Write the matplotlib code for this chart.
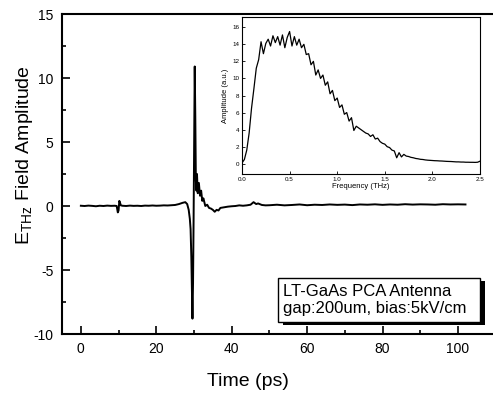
import matplotlib
matplotlib.use("Agg")
import matplotlib.pyplot as plt
from matplotlib.patches import Rectangle
from matplotlib.ticker import MultipleLocator

plt.rcParams['font.family'] = ['Liberation Sans', 'DejaVu Sans']
plt.rcParams['mathtext.fontset'] = 'custom'
plt.rcParams['mathtext.rm'] = 'Liberation Sans'
plt.rcParams['axes.unicode_minus'] = False

# ---- main time-domain trace ----
time_ps = [0, 1, 2, 3, 4, 5, 6, 7, 8, 9, 9.5, 9.8, 10.0, 10.2, 10.4, 10.6, 11,
           12, 13, 14, 15, 16, 17, 18, 19, 20, 21, 22, 23, 24, 25, 26, 27, 27.7,
           28.2, 28.6, 28.9, 29.1, 29.3, 29.45, 29.6, 29.75, 29.9, 30.05, 30.2,
           30.35, 30.5, 30.65, 30.8, 31.0, 31.3, 31.6, 31.9, 32.2, 32.5, 33,
           33.5, 34, 34.5, 35, 35.5, 36, 36.5, 37, 38, 39, 40, 41, 42, 43, 44,
           45, 45.8, 46.5, 47, 48, 49, 50, 52, 54, 56, 58, 60, 62, 64, 66, 68,
           70, 72, 74, 76, 78, 80, 82, 84, 86, 88, 90, 92, 94, 96, 98, 100, 102]
e_field = [0.02, 0.0, 0.03, 0.01, -0.02, 0.02, 0.0, 0.03, 0.01, 0.02, 0.0, -0.5,
           -0.35, 0.4, 0.25, 0.05, 0.02,
           0.0, 0.03, 0.01, 0.02, 0.0, 0.03, 0.02, 0.04, 0.02, 0.03, 0.05, 0.04,
           0.06, 0.08, 0.15, 0.25, 0.3,
           0.15, -0.3, -1.0, -1.8, -4.0, -6.5, -8.8, -6.0, -1.0, 5.0, 10.9,
           7.0, 2.0, 1.2, 2.5, 1.0, 1.8, 0.8, 1.2, 0.4, 0.6, 0.0,
           0.1, -0.15, -0.2, -0.3, -0.45, -0.3, -0.35, -0.15, -0.1, -0.05, -0.02,
           0.0, 0.05, 0.02, 0.05, 0.1, 0.3, 0.15, 0.2, 0.08, 0.05, 0.06, 0.1,
           0.05, 0.08, 0.12, 0.06, 0.1, 0.08, 0.12, 0.09, 0.11, 0.07, 0.12,
           0.1, 0.13, 0.09, 0.12, 0.1, 0.14, 0.11, 0.13, 0.12, 0.1, 0.14, 0.12,
           0.13, 0.12]

# ---- inset spectrum ----
freq_thz = [0.000, 0.025, 0.050, 0.075, 0.100, 0.125, 0.150, 0.175, 0.200, 0.225,
            0.250, 0.275, 0.300, 0.325, 0.350, 0.375, 0.400, 0.425, 0.450, 0.475,
            0.500, 0.525, 0.550, 0.575, 0.600, 0.625, 0.650, 0.675, 0.700, 0.725,
            0.750, 0.775, 0.800, 0.825, 0.850, 0.875, 0.900, 0.925, 0.950, 0.975,
            1.000, 1.025, 1.050, 1.075, 1.100, 1.125, 1.150, 1.175, 1.200, 1.225,
            1.250, 1.275, 1.300, 1.325, 1.350, 1.375, 1.400, 1.425, 1.450, 1.475,
            1.500, 1.525, 1.550, 1.575, 1.600, 1.625, 1.650, 1.675, 1.700, 1.725,
            1.750, 1.775, 1.800, 1.825, 1.850, 1.875, 1.900, 1.925, 1.950, 1.975,
            2.000, 2.025, 2.050, 2.075, 2.100, 2.125, 2.150, 2.175, 2.200, 2.225,
            2.250, 2.275, 2.300, 2.325, 2.350, 2.375, 2.400, 2.425, 2.450, 2.475,
            2.500]
amplitude = [0.1, 0.5, 1.6, 3.6, 6.5, 8.8, 11.2, 12.2, 14.3, 12.9,
             14.1, 14.6, 13.8, 15.0, 14.2, 14.9, 13.9, 15.1, 13.6, 14.8,
             15.5, 13.8, 14.9, 13.9, 14.6, 13.6, 14.0, 12.8, 12.9, 11.6,
             12.0, 10.4, 11.0, 10.0, 10.4, 9.2, 9.6, 8.2, 8.6, 7.4,
             7.7, 6.6, 6.9, 5.8, 6.0, 5.0, 5.4, 3.9, 4.4, 4.2,
             4.0, 3.8, 3.6, 3.5, 3.2, 3.4, 2.9, 3.0, 2.6, 2.4,
             2.3, 2.0, 1.9, 1.6, 1.5, 0.7, 1.3, 0.8, 1.1, 0.9,
             0.85, 0.75, 0.7, 0.62, 0.58, 0.52, 0.5, 0.45, 0.42, 0.4,
             0.38, 0.36, 0.35, 0.33, 0.32, 0.3, 0.28, 0.27, 0.26, 0.24,
             0.22, 0.22, 0.2, 0.2, 0.18, 0.18, 0.17, 0.17, 0.16, 0.18,
             0.3]

W, H = 493, 394
fig = plt.figure(figsize=(W / 100, H / 100), dpi=100)

# main axes
ax = fig.add_axes([62 / W, 1 - 334 / H, 1 - 62 / W, (334 - 14) / H])
ax.plot(time_ps, e_field, color='black', lw=1.4)
ax.set_xlim(-5, 109.3)
ax.set_ylim(-10, 15)
ax.spines['right'].set_visible(False)
for s in ['left', 'bottom', 'top']:
    ax.spines[s].set_linewidth(1.5)
ax.xaxis.set_major_locator(MultipleLocator(20))
ax.xaxis.set_minor_locator(MultipleLocator(10))
ax.yaxis.set_major_locator(MultipleLocator(5))
ax.yaxis.set_minor_locator(MultipleLocator(2.5))
ax.tick_params(which='both', direction='in', top=False, right=False,
               labelsize=10, width=1.2)
ax.tick_params(which='major', length=6, pad=6)
ax.tick_params(which='minor', length=3)
ax.set_xlabel('Time (ps)', fontsize=14)
ax.set_ylabel(r'E$_{\rm THz}$ Field Amplitude', fontsize=14)
ax.xaxis.set_label_coords((248 - 62) / 431, -(382 - 334) / 320)
ax.yaxis.set_label_coords((25 - 62) / 431, (334 - 155) / 320)
ax.xaxis.label.set_va('center')
ax.yaxis.label.set_va('center')

# inset
axi = fig.add_axes([242 / W, 1 - 174 / H, (480 - 242) / W, (174 - 17) / H])
axi.plot(freq_thz, amplitude, color='black', lw=0.9)
axi.set_xlim(0, 2.5)
axi.set_ylim(-1.2, 17.2)
axi.set_xticks([0, 0.5, 1.0, 1.5, 2.0, 2.5])
axi.set_xticklabels(['0.0', '0.5', '1.0', '1.5', '2.0', '2.5'])
axi.yaxis.set_major_locator(MultipleLocator(2))
axi.tick_params(direction='in', labelsize=4.5, length=2.5, width=0.6, pad=2)
axi.set_xlabel('Frequency (THz)', fontsize=5.5, labelpad=1)
axi.set_ylabel('Amplitude (a.u.)', fontsize=5.5, labelpad=2)
for s in axi.spines.values():
    s.set_linewidth(0.8)

# annotation box with shadow
bx0, bx1, by0, by1 = 278, 480, 278, 322
fig.patches.append(Rectangle(((bx0 + 5) / W, 1 - (by1 + 3) / H),
                             (bx1 - bx0) / W, (by1 - by0) / H,
                             transform=fig.transFigure, fc='black', ec='none'))
fig.patches.append(Rectangle((bx0 / W, 1 - by1 / H), (bx1 - bx0) / W,
                             (by1 - by0) / H, transform=fig.transFigure,
                             fc='white', ec='black', lw=1.0))
fig.text(283 / W, 1 - 300 / H, 'LT-GaAs PCA Antenna\ngap:200um, bias:5kV/cm',
         fontsize=12, ha='left', va='center', linespacing=1.1)

fig.savefig('out.png', dpi=100)
